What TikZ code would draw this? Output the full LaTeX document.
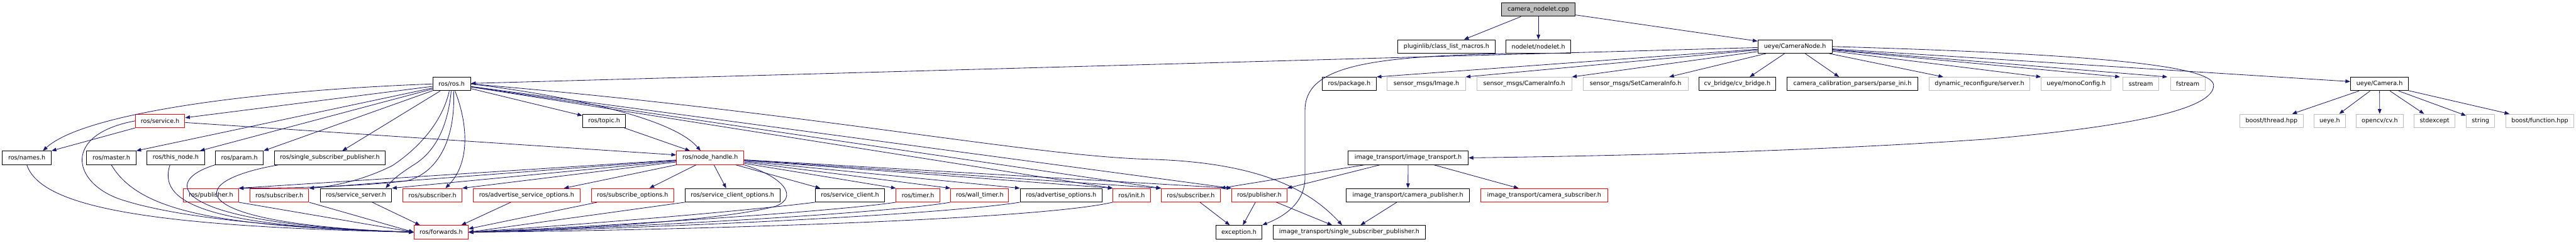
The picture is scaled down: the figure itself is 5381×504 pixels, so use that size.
\documentclass[tikz,border=0pt]{standalone}
\usepackage{fontspec}
\setmainfont{DejaVu Sans}
\usetikzlibrary{arrows.meta,calc}
\definecolor{edgec}{HTML}{191970}
\definecolor{grayb}{HTML}{BFBFBF}
\begin{document}
\begin{tikzpicture}[x=1pt,y=-1pt,
 box/.style={rectangle, minimum height=28pt, inner sep=0pt, line width=1.3pt, font=\fontsize{12.6}{14}\selectfont, text=black, fill=white},
 blk/.style={box, draw=black},
 redb/.style={box, draw=red},
 grb/.style={box, draw=grayb},
 rootb/.style={box, draw=black, fill=grayb},
 edge/.style={draw=edgec, line width=1.1pt, -{Triangle[length=10pt,width=7.5pt]}}]
\fill[white] (0,0) rectangle (5381,504);
\useasboundingbox (0,0) rectangle (5381,504);
% row 0
\node[rootb, minimum width=153pt] (cpp) at (3213.5,20) {camera\_nodelet.cpp};
% row 1
\node[blk, minimum width=203pt] (pluginlib) at (3021.5,97) {pluginlib/class\_list\_macros.h};
\node[blk, minimum width=135pt] (nodelet) at (3213.5,97) {nodelet/nodelet.h};
\node[blk, minimum width=155pt] (cameranode) at (3749.5,97) {ueye/CameraNode.h};
% row 2
\node[blk, minimum width=79pt] (rosros) at (943.5,175) {ros/ros.h};
\node[blk, minimum width=113pt] (package) at (2818.5,175) {ros/package.h};
\node[grb, minimum width=163pt] (smimage) at (2979.5,175) {sensor\_msgs/Image.h};
\node[grb, minimum width=198pt] (smcaminfo) at (3184,175) {sensor\_msgs/CameraInfo.h};
\node[grb, minimum width=219pt] (smset) at (3416.5,175) {sensor\_msgs/SetCameraInfo.h};
\node[blk, minimum width=160pt] (cvbridge) at (3629,175) {cv\_bridge/cv\_bridge.h};
\node[blk, minimum width=273pt] (calib) at (3869.5,175) {camera\_calibration\_parsers/parse\_ini.h};
\node[grb, minimum width=210pt] (dynrec) at (4135,175) {dynamic\_reconfigure/server.h};
\node[grb, minimum width=146pt] (monocfg) at (4337,175) {ueye/monoConfig.h};
\node[grb, minimum width=74pt] (sstream) at (4472,175) {sstream};
\node[grb, minimum width=72pt] (fstream) at (4570,175) {fstream};
\node[blk, minimum width=121pt] (camera) at (4970.5,175) {ueye/Camera.h};
% row 3
\node[redb, minimum width=103pt] (service) at (334.5,252) {ros/service.h};
\node[blk, minimum width=90pt] (topic) at (1262,252) {ros/topic.h};
\node[grb, minimum width=132pt] (thread) at (4745,252) {boost/thread.hpp};
\node[grb, minimum width=65pt] (ueyeh) at (4866.5,252) {ueye.h};
\node[grb, minimum width=98pt] (cv) at (4971,252) {opencv/cv.h};
\node[grb, minimum width=85pt] (stdexcept) at (5085.5,252) {stdexcept};
\node[grb, minimum width=59pt] (string) at (5181.5,252) {string};
\node[grb, minimum width=141pt] (function) at (5305.5,252) {boost/function.hpp};
% row 4
\node[blk, minimum width=102pt] (names) at (56,329) {ros/names.h};
\node[blk, minimum width=103pt] (master) at (232.5,329) {ros/master.h};
\node[blk, minimum width=120pt] (thisnode) at (367,329) {ros/this\_node.h};
\node[blk, minimum width=100pt] (param) at (500,329) {ros/param.h};
\node[blk, minimum width=232pt] (rssp) at (689,329) {ros/single\_subscriber\_publisher.h};
\node[redb, minimum width=141pt] (nh) at (1483.5,329) {ros/node\_handle.h};
\node[blk, minimum width=251pt] (it) at (2941.5,329) {image\_transport/image\_transport.h};
% row 5
\node[redb, minimum width=115pt] (pub1) at (440.5,407) {ros/publisher.h};
\node[redb, minimum width=123pt] (sub1) at (583.5,407) {ros/subscriber.h};
\node[blk, minimum width=149pt] (srvsrv) at (743.5,407) {ros/service\_server.h};
\node[redb, minimum width=123pt] (sub1b) at (903.5,407) {ros/subscriber.h};
\node[redb, minimum width=224pt] (aso) at (1100,407) {ros/advertise\_service\_options.h};
\node[redb, minimum width=173pt] (so) at (1321.5,407) {ros/subscribe\_options.h};
\node[blk, minimum width=198pt] (sco) at (1530,407) {ros/service\_client\_options.h};
\node[blk, minimum width=145pt] (sc) at (1775.5,407) {ros/service\_client.h};
\node[redb, minimum width=91pt] (timer) at (1917.5,407) {ros/timer.h};
\node[redb, minimum width=121pt] (wtimer) at (2046.5,407) {ros/wall\_timer.h};
\node[blk, minimum width=171pt] (ao) at (2216.5,407) {ros/advertise\_options.h};
\node[redb, minimum width=78pt] (init) at (2364,407) {ros/init.h};
\node[redb, minimum width=123pt] (sub2) at (2487.5,407) {ros/subscriber.h};
\node[redb, minimum width=115pt] (pub2) at (2630.5,407) {ros/publisher.h};
\node[blk, minimum width=258pt] (campub) at (2941,407) {image\_transport/camera\_publisher.h};
\node[redb, minimum width=265pt] (camsub) at (3225.5,407) {image\_transport/camera\_subscriber.h};
% row 6
\node[redb, minimum width=113pt] (fwd) at (921.5,484) {ros/forwards.h};
\node[blk, minimum width=96pt] (exc) at (2588,484) {exception.h};
\node[blk, minimum width=319pt] (itssp) at (2818.5,484) {image\_transport/single\_subscriber\_publisher.h};

\begin{scope}[on background layer/.try]
\end{scope}

% camera_nodelet.cpp
\draw[edge] (cpp) -- (pluginlib);
\draw[edge] (cpp) -- (nodelet);
\draw[edge] (cpp) -- (cameranode);
% nodelet
\draw[edge] (nodelet.south west) .. controls (2850,118) and (2726,140) .. (2726,230) -- (2726,370) .. controls (2726,425) and (2680,452) .. (exc.north east);
% CameraNode
\draw[edge] (cameranode) -- (rosros);
\draw[edge] (cameranode) -- (package.north east);
\draw[edge] (cameranode) -- (smimage.north east);
\draw[edge] (cameranode) -- (smcaminfo.north east);
\draw[edge] (cameranode) -- ($(smset.north east)+(-40,0)$);
\draw[edge] (cameranode) -- ($(cvbridge.north)+(26,0)$);
\draw[edge] (cameranode) -- ($(calib.north)+(-28,0)$);
\draw[edge] (cameranode) -- ($(dynrec.north west)+(30,0)$);
\draw[edge] (cameranode) -- (monocfg.north west);
\draw[edge] (cameranode) -- ($(sstream.north west)+(-6,0)$);
\draw[edge] (cameranode) -- ($(fstream.north west)+(-6,0)$);
\draw[edge] (cameranode) -- ($(camera.west)+(0,-5)$);
\draw[edge] (cameranode.east) .. controls (4350,112) and (4624,135) .. (4624,178) .. controls (4624,225) and (4470,262) .. (4150,290) .. controls (3750,318) and (3300,326) .. (it.east);
% Camera.h
\draw[edge] (camera) -- (thread);
\draw[edge] (camera) -- (ueyeh);
\draw[edge] (camera) -- (cv);
\draw[edge] (camera) -- (stdexcept);
\draw[edge] (camera) -- (string);
\draw[edge] (camera) -- (function);
% image_transport
\draw[edge] (it) -- (sub2.north east);
\draw[edge] (it) -- (pub2.north east);
\draw[edge] (it) -- (campub);
\draw[edge] (it) -- (camsub);
\draw[edge] (campub) -- (itssp);
\draw[edge] (pub2) -- (exc);
\draw[edge] (pub2) -- (itssp);
\draw[edge] (sub2) -- (exc);
% ros/ros.h
\draw[edge] (rosros.west) .. controls (500,190) and (170,240) .. ($(names.north east)+(-18,0)$);
\draw[edge] (rosros) -- (service);
\draw[edge] (rosros) -- (master.north east);
\draw[edge] (rosros) -- ($(thisnode.north east)+(-10,0)$);
\draw[edge] (rosros) -- (param.north east);
\draw[edge] (rosros) -- ($(rssp.north)+(26,0)$);
\draw[edge] (rosros) -- (topic);
\draw[edge] (rosros.east) .. controls (1150,195) and (1400,240) .. ($(nh.north)+(-20,0)$);
\draw[edge] ($(rosros.south)+(-5,0)$) .. controls (925,250) and (880,305) .. (820,345) .. controls (760,375) and (700,388) .. (sub1.north east);
\draw[edge] ($(rosros.south)+(-1,0)$) .. controls (935,270) and (905,320) .. (862,345) .. controls (842,358) and (822,372) .. ($(srvsrv.north east)+(-13,0)$);
\draw[edge] ($(rosros.south)+(4,0)$) .. controls (952,290) and (915,360) .. (850,377) .. controls (720,392) and (560,392) .. (pub1.north east);
\draw[edge] ($(rosros.south)+(7,0)$) .. controls (978,260) and (982,340) .. ($(sub1b.north)+(27,0)$);
\draw[edge] (rosros) -- (init.north west);
\draw[edge] (rosros) -- (sub2.north west);
\draw[edge] (rosros) -- (pub2.north west);
\draw[edge] (rosros.east) .. controls (1700,235) and (2150,325) .. (2400,332) .. controls (2620,338) and (2730,390) .. ($(itssp.north)+(-15,0)$);
% service / topic
\draw[edge] (service.south west) -- (names.north east);
\draw[edge] (service) -- ($(nh.west)+(0,-6)$);
\draw[edge] (topic) -- (nh);
% node_handle
\draw[edge] (nh) -- (pub1.north east);
\draw[edge] (nh) -- (sub1.north east);
\draw[edge] (nh) -- (srvsrv.north east);
\draw[edge] (nh) -- (sub1b.north east);
\draw[edge] (nh) -- ($(aso.north)+(78,0)$);
\draw[edge] (nh) -- ($(so.north)+(35,0)$);
\draw[edge] (nh) -- ($(sco.north)+(-13,0)$);
\draw[edge] (nh) -- ($(sc.north)+(-62,0)$);
\draw[edge] (nh) -- (timer.north west);
\draw[edge] (nh) -- (wtimer.north west);
\draw[edge] (nh) -- (ao.north west);
\draw[edge] (nh) -- (init.north west);
\draw[edge] (nh) -- (sub2.north west);
\draw[edge] (nh) -- (pub2.north west);
\draw[edge] (nh.south east) .. controls (1640,370) and (1668,412) .. (1620,430) .. controls (1500,462) and (1150,480) .. (fwd.east);
% into forwards.h
\draw[edge] (names.south) .. controls (85,430) and (300,472) .. (fwd.west);
\draw[edge] (master.south) .. controls (290,440) and (450,472) .. (fwd.west);
\draw[edge] ($(thisnode.south)+(-12,0)$) .. controls (330,420) and (420,472) .. (fwd.west);
\draw[edge] (param.south west) .. controls (330,380) and (360,468) .. (fwd.west);
\draw[edge] ($(rssp.south west)+(10,0)$) .. controls (370,380) and (390,468) .. (fwd.west);
\draw[edge] (service.west) .. controls (130,280) and (150,380) .. (250,415) .. controls (400,465) and (700,478) .. (fwd.west);
\draw[edge] (pub1.south east) -- (fwd.west);
\draw[edge] (sub1.south east) -- (fwd.west);
\draw[edge] ($(srvsrv.south)+(34,0)$) -- ($(fwd.north west)+(13,0)$);
\draw[edge] ($(aso.south)+(-33,0)$) -- ($(fwd.north east)+(-15,0)$);
\draw[edge] ($(so.south west)+(13,0)$) -- ($(fwd.east)+(0,-7)$);
\draw[edge] (sco.south west) -- (fwd.east);
\draw[edge] (sc.south west) .. controls (1600,435) and (1300,462) .. (fwd.east);
\draw[edge] (timer.south west) .. controls (1750,440) and (1300,470) .. (fwd.east);
\draw[edge] (wtimer.south west) .. controls (1850,445) and (1300,475) .. (fwd.east);
\draw[edge] (ao.south west) .. controls (1950,450) and (1300,478) .. (fwd.east);
\draw[edge] (init.south west) .. controls (2150,462) and (1300,482) .. (fwd.east);
\end{tikzpicture}
\end{document}
